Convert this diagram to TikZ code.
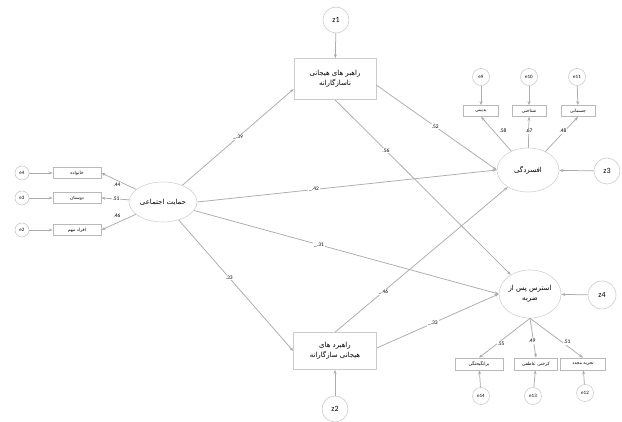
\documentclass[tikz,border=0pt]{standalone}
\usepackage{fontspec}
\setmainfont{Carlito}
\newfontfamily\fa[Script=Arabic]{DejaVu Sans}
\TeXXeTstate=1
\usetikzlibrary{arrows.meta,shapes.geometric}
\newcommand{\fat}[1]{{\fa\beginR #1\endR}}
\begin{document}
\begin{tikzpicture}[x=1pt,y=-1pt,
 ln/.style={draw=gray!65, line width=0.75pt, -{Stealth[length=4pt,width=3pt]}},
 lbox/.style={draw=gray!40, line width=0.6pt, rectangle, minimum width=82pt, font=\fontsize{7}{10}\selectfont, align=center, inner sep=1pt},
 sbox/.style={draw=gray!55, line width=0.6pt, rectangle, minimum height=11pt, font=\fontsize{4.5}{5}\selectfont, inner sep=1pt},
 lat/.style={draw=gray!35, line width=0.6pt, ellipse, font=\fontsize{7}{10}\selectfont, align=center, inner sep=0pt},
 dist/.style={draw=gray!40, line width=0.6pt, circle, minimum size=26pt, inner sep=0pt, font=\fontsize{8}{9}\selectfont},
 err/.style={draw=gray!40, line width=0.6pt, circle, minimum size=17pt, inner sep=0pt, font=\fontsize{5}{6}\selectfont},
 coef/.style={fill=white, inner sep=0.8pt, font=\fontsize{5.5}{6}\selectfont},
]
\fill[white] (0,0) rectangle (622,422);
\useasboundingbox (0,0) rectangle (622,422);

% main nodes
\node[dist] (z1) at (336,20) {z1};
\node[lbox, minimum height=41pt] (b1) at (335,79) {\fat{راهبر های هیجانی}\\\fat{ناسازگارانه}};
\node[lbox, minimum height=37pt, minimum width=83pt] (b2) at (335,351) {\fat{راهبرد های}\\\fat{هیجانی سازگارانه}};
\node[dist] (z2) at (335,409) {z2};
\node[lat, minimum width=68pt, minimum height=40pt] (sup) at (163,202) {\fat{حمایت اجتماعی}};
\node[lat, minimum width=62pt, minimum height=44pt] (dep) at (528,170) {\fat{افسردگی}};
\node[lat, minimum width=62pt, minimum height=48pt] (ptsd) at (530,294) {\fat{استرس پس از}\\\fat{ضربه}};
\node[dist] (z3) at (607,171) {z3};
\node[dist, minimum size=28pt] (z4) at (602,295) {z4};

% left indicators
\node[sbox, minimum width=48pt] (f1) at (77,173) {\fat{خانواده}};
\node[sbox, minimum width=48pt] (f2) at (77,198) {\fat{دوستان}};
\node[sbox, minimum width=48pt] (f3) at (77,230) {\fat{افراد مهم}};
\node[err, minimum size=14pt] (e4) at (22,173) {e4};
\node[err, minimum size=14pt] (e3) at (22,198) {e3};
\node[err, minimum size=14pt] (e2) at (22,230) {e2};

% top indicators
\node[sbox, minimum width=35pt] (d1) at (481,111) {\fat{بدبینی}};
\node[sbox, minimum width=34pt] (d2) at (529,111) {\fat{شناختی}};
\node[sbox, minimum width=34pt] (d3) at (578,111) {\fat{جسمانی}};
\node[err] (e9) at (481,77) {e9};
\node[err] (e10) at (529,77) {e10};
\node[err] (e11) at (577,77) {e11};

% bottom indicators
\node[sbox, minimum width=48pt, minimum height=12pt] (p1) at (479,364) {\fat{برانگیختگی}};
\node[sbox, minimum width=43pt, minimum height=12pt] (p2) at (536,364) {\fat{کرختی عاطفی}};
\node[sbox, minimum width=45pt, minimum height=12pt] (p3) at (583,364) {\fat{تجربه مجدد}};
\node[err] (e14) at (481,396) {e14};
\node[err] (e13) at (533,396) {e13};
\node[err] (e12) at (585,393) {e12};

% disturbances
\draw[ln] (z1) -- (b1);
\draw[ln] (z2) -- (b2);
\draw[ln] (z3) -- (dep);
\draw[ln] (z4) -- (ptsd);

% structural paths
\draw[ln] (sup) -- ([yshift=-10pt]b1.west) node[coef, pos=0.5] {\_.39};
\draw[ln] (sup.east) -- (dep.west) node[coef, pos=0.39] {\_.42};
\draw[ln] (sup) -- (ptsd.west) node[coef, pos=0.41] {\_.31};
\draw[ln] (sup) -- (b2.west) node[coef, pos=0.44] {.33};
\draw[ln] ([yshift=-6pt]b1.east) -- (dep.west) node[coef, pos=0.49] {.52};
\draw[ln] (b1.south) -- (ptsd) node[coef, pos=0.29] {.56};
\draw[ln] (b2.north) -- (dep) node[coef, pos=0.28] {\_.46};
\draw[ln] ([yshift=3pt]b2.east) -- (ptsd.west) node[coef, pos=0.46] {\_.33};

% left measurement
\draw[ln] (e4) -- (f1);
\draw[ln] (e3) -- (f2);
\draw[ln] (e2) -- (f3);
\draw[ln] (sup) -- (f1.east);
\draw[ln] (sup) -- (f2.east);
\draw[ln] (sup) -- (f3.east);
\node[coef] (l44) at (117,185) {.44};
\node[coef] (l51) at (116,199) {.51};
\node[coef] (l46) at (117,216) {.46};

% top measurement
\draw[ln] (e9) -- (d1);
\draw[ln] (e10) -- (d2);
\draw[ln] (e11) -- (d3);
\draw[ln] (dep) -- (d1.south);
\draw[ln] (dep) -- (d2.south);
\draw[ln] (dep) -- (d3.south);
\node[coef] (l58) at (503,131) {.58};
\node[coef] (l67) at (529,131) {.67};
\node[coef] (l48) at (563,131) {.48};

% bottom measurement
\draw[ln] (e14) -- (p1);
\draw[ln] (e13) -- (p2);
\draw[ln] (e12) -- (p3);
\draw[ln] (ptsd.south) -- (p1.north);
\draw[ln] (ptsd.south) -- (p2.north);
\draw[ln] (ptsd.south) -- (p3.north);
\node[coef] (l55) at (501,344) {.55};
\node[coef] (l49) at (532,341) {.49};
\node[coef] (l51b) at (567,342) {.51};
\end{tikzpicture}
\end{document}
